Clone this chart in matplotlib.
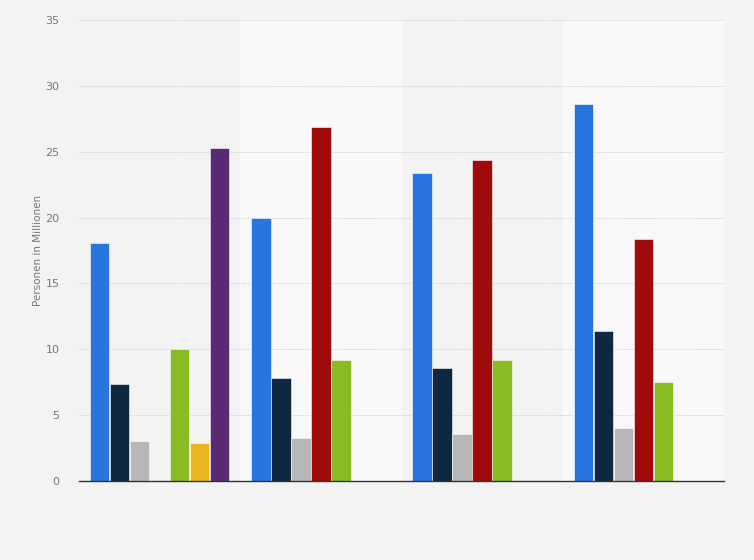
import numpy as np
import matplotlib
matplotlib.use("Agg")
from matplotlib import pyplot as plt

# Data (in millions)
groups = ["1", "2", "3", "4"]
series_names = ["Serie 1", "Serie 2", "Serie 3", "Serie 4", "Serie 5", "Serie 6", "Serie 7"]
s1 = [18.1, 20.0, 23.4, 28.6]
s2 = [7.4, 7.8, 8.6, 11.4]
s3 = [3.0, 3.3, 3.6, 4.0]
s4 = [np.nan, 26.9, 24.4, 18.4]
s5 = [10.0, 9.2, 9.2, 7.5]
s6 = [2.9, np.nan, np.nan, np.nan]
s7 = [25.3, np.nan, np.nan, np.nan]
series = [s1, s2, s3, s4, s5, s6, s7]
colors = ["#2876dd", "#0f2741", "#b7b7b7", "#a10a0a", "#8aba24", "#e9b321", "#5b2a74"]


def main():
    fig = plt.figure(figsize=(7.54, 5.6), dpi=100, facecolor="#f3f3f3")
    ax = fig.add_axes([0.1048, 0.1411, 0.8554, 0.8232])
    ax.set_facecolor("#f3f3f3")

    x = np.arange(len(groups))
    width = 0.124
    n = len(series)

    # alternating lighter bands behind groups 2 and 4
    for i in x:
        if i % 2 == 1:
            ax.axvspan(i - 0.5, i + 0.5, color="#f8f8f8", zorder=0)

    for k, (vals, col, name) in enumerate(zip(series, colors, series_names)):
        offset = (k - (n - 1) / 2) * width
        ax.bar(x + offset, vals, width * 0.97, color=col, label=name,
               edgecolor="#ffffff", linewidth=0.4, zorder=3)

    ax.set_xlim(-0.5, len(groups) - 0.5)
    ax.set_ylim(0, 35)
    ax.set_yticks(np.arange(0, 36, 5))
    ax.set_xticks([])
    ax.grid(axis="y", color="#d2d2d2", linestyle=(0, (1, 1)), linewidth=0.7, zorder=1)
    for side in ["top", "right", "left"]:
        ax.spines[side].set_visible(False)
    ax.spines["bottom"].set_color("#333333")
    ax.spines["bottom"].set_linewidth(1.0)
    ax.spines["bottom"].set_zorder(4)
    ax.tick_params(axis="y", length=0, pad=14, labelsize=8, labelcolor="#777777")
    ax.set_ylabel("Personen in Millionen", fontsize=7.5, color="#777777", labelpad=2)

    fig.savefig("out.png", dpi=100, facecolor=fig.get_facecolor())


if __name__ == "__main__":
    main()
